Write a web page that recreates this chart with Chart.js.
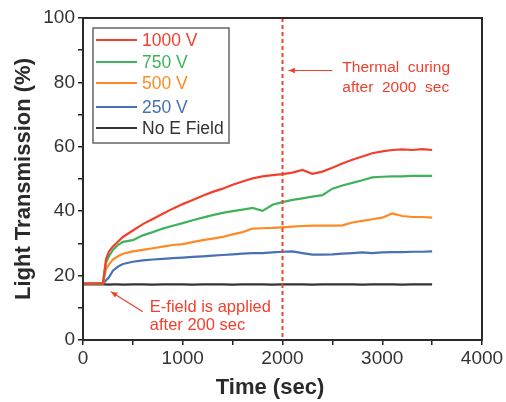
<!DOCTYPE html>
<html><head><meta charset="utf-8">
<script src="https://cdn.jsdelivr.net/npm/chart.js@4/dist/chart.umd.min.js"></script>
<style>html,body{margin:0;padding:0;background:#fff}#wrap{width:506px;height:402px}</style>
</head><body><div id="wrap"><canvas id="c" width="506" height="402"></canvas></div>
<script>
const times = [0,100,200,230,260,300,350,400,500,600,700,800,900,1000,1100,1200,1300,1400,1500,1600,1700,1800,1900,2000,2100,2200,2300,2400,2500,2600,2700,2800,2900,3000,3100,3200,3300,3400,3500];
const v1000 = [17.5,17.5,17.5,25,27.5,29,30.5,32,34,36,37.6,39.2,40.8,42.2,43.5,44.8,46,47,48.2,49.2,50.2,50.8,51.2,51.5,52,52.8,51.6,52.3,53.5,54.8,56,57,58,58.6,59,59.2,59,59.3,59];
const v750 = [17.5,17.5,17.5,24,26,28,29.5,30.5,31,32.5,33.5,34.6,35.5,36.3,37.2,38,38.8,39.5,40,40.5,41,40.1,42,42.8,43.5,44,44.5,45,47,48,48.8,49.6,50.5,50.7,50.8,50.8,51,51,51];
const v500 = [17.5,17.5,17.5,22,23.5,25,26,26.8,27.5,28,28.5,29,29.5,29.8,30.4,31,31.5,32,32.8,33.5,34.6,34.7,34.8,35,35.2,35.4,35.5,35.5,35.5,35.6,36.5,37,37.5,38,39.3,38.5,38.2,38.2,38];
const v250 = [17.5,17.5,17.5,18.5,19.5,21.5,22.8,23.6,24.3,24.7,25,25.2,25.4,25.6,25.8,26,26.2,26.4,26.6,26.8,27,27,27.2,27.4,27.5,27,26.5,26.5,26.6,26.8,27,27.2,27,27.2,27.3,27.3,27.4,27.4,27.5];
const v0 = [17.3,17.3,17.3,17.3,17.2,17.3,17.3,17.2,17.3,17.3,17.2,17.3,17.3,17.3,17.2,17.3,17.3,17.3,17.2,17.3,17.3,17.3,17.2,17.3,17.3,17.3,17.2,17.3,17.3,17.3,17.3,17.2,17.3,17.3,17.3,17.2,17.3,17.3,17.3];
const labels = ['1000 V','750 V','500 V','250 V','No E Field'];
const colors = ['#f2402f','#3fb35c','#ff8a24','#4a70b4','#333333'];
const seriesVals = [v1000,v750,v500,v250,v0];
const xTicksLabeled = [0,1000,2000,3000,4000];
const yTicksLabeled = [0,20,40,60,80,100];
const annoColor = '#f2402f';

const datasets = seriesVals.map((vals,i)=>({
  label: labels[i],
  data: times.map((t,k)=>({x:t,y:vals[k]})),
  borderColor: colors[i], borderWidth: 2.2, pointRadius: 0, tension: 0, fill:false
}));

const FONT = '"Liberation Sans", Arial, sans-serif';

const deco = {
  id:'deco',
  afterDraw(chart){
    const {ctx, chartArea:a, scales:{x,y}} = chart;
    ctx.save();
    ctx.strokeStyle = annoColor; ctx.lineWidth = 2; ctx.setLineDash([4,3]);
    const px = x.getPixelForValue(2000);
    ctx.beginPath(); ctx.moveTo(px,a.top); ctx.lineTo(px,a.bottom); ctx.stroke();
    ctx.setLineDash([]);
    ctx.strokeStyle = '#2a2a2a'; ctx.lineWidth = 2;
    ctx.strokeRect(a.left, a.top, a.right-a.left, a.bottom-a.top);
    // x title
    ctx.fillStyle = '#2a2a2a'; ctx.font = 'bold 22px '+FONT; ctx.textAlign='center'; ctx.textBaseline='middle';
    ctx.fillText('Time (sec)', 270, 388);
    ctx.fillStyle = annoColor; ctx.strokeStyle = annoColor; ctx.lineWidth = 1.2;
    ctx.font = '15.5px '+FONT; ctx.textAlign='left';
    ctx.fillText('Thermal  curing', x.getPixelForValue(2600), y.getPixelForValue(84.5));
    ctx.fillText('after  2000  sec', x.getPixelForValue(2600), y.getPixelForValue(78.2));
    arrow(ctx, x.getPixelForValue(2500), y.getPixelForValue(83.7), x.getPixelForValue(2060), y.getPixelForValue(83.7));
    ctx.font = '16.5px '+FONT;
    ctx.fillText('E-field is applied', x.getPixelForValue(670), y.getPixelForValue(10.2));
    ctx.fillText('after 200 sec', x.getPixelForValue(670), y.getPixelForValue(4.5));
    arrow(ctx, x.getPixelForValue(600), y.getPixelForValue(8.8), x.getPixelForValue(280), y.getPixelForValue(15));
    const lx = a.left+10, ly = a.top+10, lw = 136, lh = 115;
    ctx.strokeStyle = '#666'; ctx.lineWidth = 1.5;
    ctx.strokeRect(lx, ly, lw, lh);
    ctx.font = '17.5px '+FONT;
    const ys = [12,34,55,79,100];
    labels.forEach((lab,i)=>{
      const yy = ly + ys[i];
      ctx.strokeStyle = colors[i]; ctx.lineWidth = 2;
      ctx.beginPath(); ctx.moveTo(lx+3, yy); ctx.lineTo(lx+44, yy); ctx.stroke();
      ctx.fillStyle = colors[i];
      ctx.fillText(lab, lx+49, yy+1);
    });
    ctx.restore();
  }
};
function arrow(ctx,x1,y1,x2,y2){
  ctx.beginPath(); ctx.moveTo(x1,y1); ctx.lineTo(x2,y2); ctx.stroke();
  const ang = Math.atan2(y2-y1,x2-x1), h=7;
  ctx.beginPath(); ctx.moveTo(x2,y2);
  ctx.lineTo(x2-h*Math.cos(ang-0.4), y2-h*Math.sin(ang-0.4));
  ctx.lineTo(x2-h*Math.cos(ang+0.4), y2-h*Math.sin(ang+0.4));
  ctx.closePath(); ctx.fill();
}

new Chart(document.getElementById('c'), {
  type:'line',
  data:{datasets},
  options:{
    responsive:false, animation:false,
    layout:{padding:{top:18,right:24,left:0,bottom:0}},
    plugins:{legend:{display:false}, tooltip:{enabled:false}},
    scales:{
      x:{type:'linear', min:0, max:4000,
        ticks:{stepSize:500, autoSkip:false, maxRotation:0, color:'#333', font:{family:FONT,size:19}, padding:2,
          callback:v=> xTicksLabeled.includes(v) ? String(v) : ''},
        grid:{drawOnChartArea:false, drawTicks:true, tickLength:5, tickColor:'#222', lineWidth:1.5},
        border:{display:false},
        title:{display:false, text:'Time (sec)'},
        afterFit(s){ s.height = 62; }
      },
      y:{min:0, max:100,
        ticks:{stepSize:10, autoSkip:false, color:'#333', font:{family:FONT,size:19}, padding:3,
          callback:v=> yTicksLabeled.includes(v) ? String(v) : ''},
        grid:{drawOnChartArea:false, drawTicks:true, tickLength:5, tickColor:'#222', lineWidth:1.5},
        border:{display:false},
        title:{display:true, text:'Light Transmission (%)', color:'#2a2a2a', font:{family:FONT,size:22,weight:'bold'}, padding:{top:11,bottom:0}},
        afterFit(s){ s.width = 83; }
      }
    }
  },
  plugins:[deco]
});
</script></body></html>
